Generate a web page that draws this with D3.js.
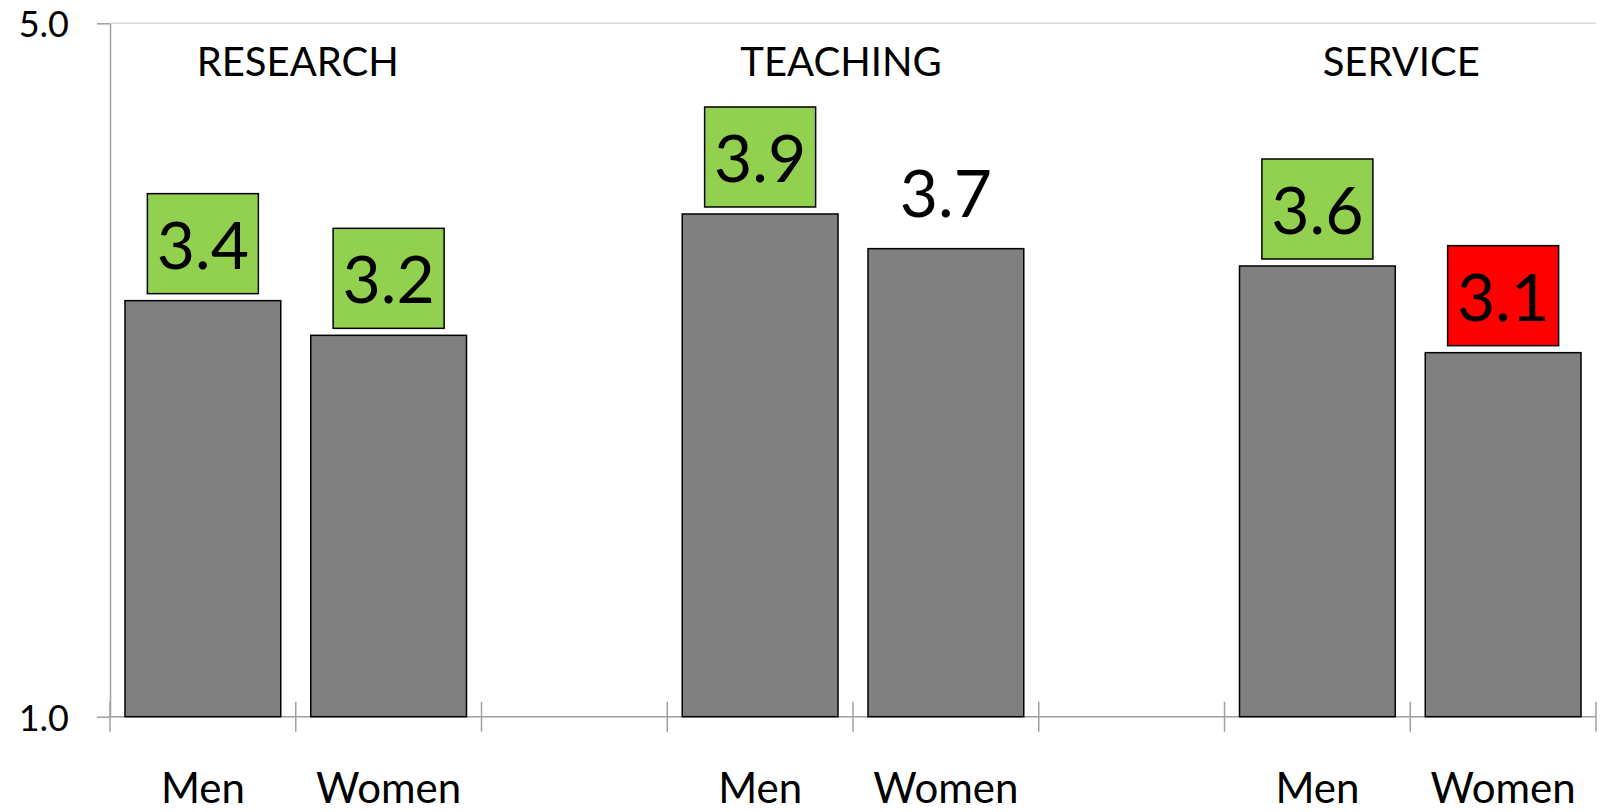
<!DOCTYPE html>
<html>
<head>
<meta charset="utf-8">
<script src="https://cdn.jsdelivr.net/npm/d3@7"></script>
<style>
  html, body { margin: 0; padding: 0; background: #fff; }
  svg { display: block; font-family: Lato, "Open Sans", sans-serif; }
</style>
</head>
<body>
<svg id="chart" width="1601" height="812"></svg>
<script>
// Slots along the x axis: three groups of two bars, separated by empty slots
const slotKeys = ["research-men", "research-women", "gap-1",
                  "teaching-men", "teaching-women", "gap-2",
                  "service-men", "service-women"];
const slotLabels = ["Men", "Women", "", "Men", "Women", "", "Men", "Women"];
const groupTitles = ["RESEARCH", "TEACHING", "SERVICE"];
const groupSlots = [[0, 1], [3, 4], [6, 7]];
// Mean scores per slot (null = spacer)
const scores = [3.4, 3.2, null, 3.9, 3.7, null, 3.6, 3.1];
// Label flag: "above" = favourable, "below" = unfavourable, "plain" = no box
const labelFlags = ["above", "above", null, "above", "plain", null, "above", "below"];
const yTicks = [1.0, 5.0];

// Layout
const plotLeft = 110, plotRight = 1596, plotTop = 23.3, plotBase = 716.7;
const flagFill = { above: "#92D050", below: "#FF0000", plain: "none" };
const flagStroke = { above: "#000", below: "#000", plain: "none" };
const titleNudge = [2, -12, -9];

const svg = d3.select("#chart");

const step = (plotRight - plotLeft) / slotKeys.length;
const pad = 30 / step;
const x = d3.scaleBand()
  .domain(slotKeys)
  .range([plotLeft, plotRight])
  .paddingInner(pad)
  .paddingOuter(pad / 2);

const edge = d3.scaleLinear().domain([0, slotKeys.length]).range([plotLeft, plotRight]);

const y = d3.scaleLinear().domain([1, 5]).range([plotBase, plotTop]);

// Light gridline at the top value
svg.append("line")
  .attr("x1", plotLeft).attr("x2", plotRight)
  .attr("y1", y(5)).attr("y2", y(5))
  .attr("stroke", "#d9d9d9").attr("stroke-width", 1.5);

// Y axis
const yAxis = svg.append("g")
  .attr("transform", `translate(${plotLeft},0)`)
  .call(d3.axisLeft(y).tickValues(yTicks).tickSize(13).tickSizeOuter(0)
    .tickPadding(28).tickFormat(d3.format(".1f")));
yAxis.select(".domain").attr("stroke", "#a0a0a0").attr("stroke-width", 1.5);
yAxis.selectAll(".tick line").attr("stroke", "#a0a0a0").attr("stroke-width", 1.5);
yAxis.selectAll(".tick text")
  .attr("font-family", "Lato, 'Open Sans', sans-serif")
  .attr("font-size", 36).attr("dy", "0.375em").attr("fill", "#000");

// X axis baseline with cross ticks on slot boundaries
svg.append("line")
  .attr("x1", plotLeft).attr("x2", plotRight)
  .attr("y1", y(1)).attr("y2", y(1))
  .attr("stroke", "#a0a0a0").attr("stroke-width", 1.5);
svg.append("g").selectAll("line")
  .data(d3.range(slotKeys.length + 1))
  .join("line")
  .attr("x1", d => edge(d)).attr("x2", d => edge(d))
  .attr("y1", y(1) - 15).attr("y2", y(1) + 15)
  .attr("stroke", "#a0a0a0").attr("stroke-width", 1.5);

// Slot labels
svg.append("g").selectAll("text")
  .data(slotKeys.map((k, i) => ({ k, label: slotLabels[i] })).filter(d => d.label))
  .join("text")
  .attr("x", d => x(d.k) + x.bandwidth() / 2)
  .attr("y", 803)
  .attr("text-anchor", "middle")
  .attr("font-size", 42)
  .attr("fill", "#000")
  .text(d => d.label);

const rows = slotKeys.map((k, i) => ({ k, v: scores[i], flag: labelFlags[i] }))
  .filter(d => d.v != null);

// Bars
svg.append("g").selectAll("rect")
  .data(rows)
  .join("rect")
  .attr("x", d => x(d.k))
  .attr("y", d => y(d.v))
  .attr("width", x.bandwidth())
  .attr("height", d => y(1) - y(d.v))
  .attr("fill", "#808080")
  .attr("stroke", "#000")
  .attr("stroke-width", 1.5);

// Value labels with coloured boxes
const boxW = 111, boxH = 100, boxGap = 7;
const lab = svg.append("g").selectAll("g")
  .data(rows)
  .join("g")
  .attr("transform", d => `translate(${x(d.k) + x.bandwidth() / 2},${y(d.v)})`);
lab.append("rect")
  .attr("x", -boxW / 2)
  .attr("y", -boxGap - boxH)
  .attr("width", boxW)
  .attr("height", boxH)
  .attr("fill", d => flagFill[d.flag])
  .attr("stroke", d => flagStroke[d.flag])
  .attr("stroke-width", 1.5);
lab.append("text")
  .attr("x", 0)
  .attr("y", -32)
  .attr("text-anchor", "middle")
  .attr("font-size", 66)
  .attr("fill", "#000")
  .text(d => d3.format(".1f")(d.v));

// Group titles
svg.append("g").selectAll("text")
  .data(groupTitles)
  .join("text")
  .attr("x", (d, i) => (edge(groupSlots[i][0]) + edge(groupSlots[i][1] + 1)) / 2 + titleNudge[i])
  .attr("y", y(5) + 53)
  .attr("text-anchor", "middle")
  .attr("font-size", 40)
  .attr("fill", "#000")
  .text(d => d);
</script>
</body>
</html>
